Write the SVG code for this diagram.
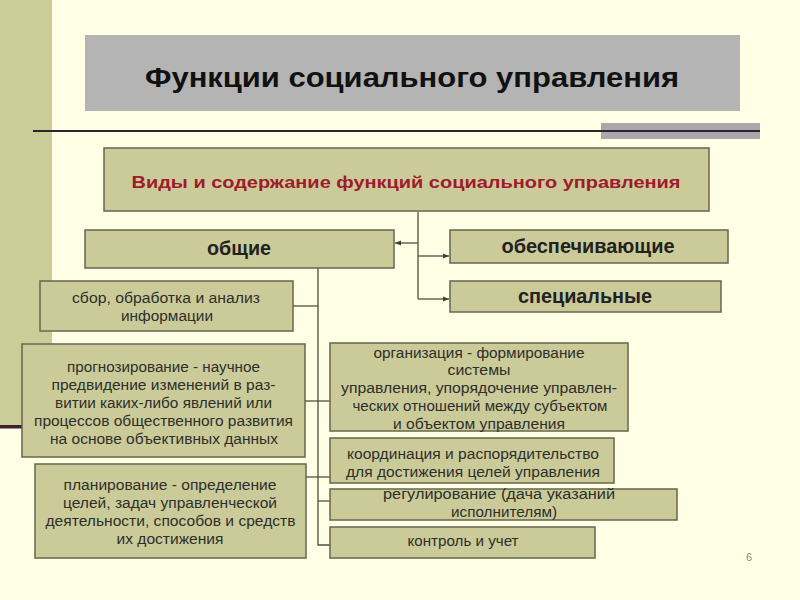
<svg xmlns="http://www.w3.org/2000/svg" width="800" height="600" viewBox="0 0 800 600">
<defs>
<style>
.box{fill:#CBCB9A;stroke:#66664F;stroke-width:1.5}
.t{font-family:"Liberation Sans",Arial,sans-serif;font-size:14px;fill:#2E2E2A;text-anchor:middle}
.b{font-family:"Liberation Sans",Arial,sans-serif;font-size:20px;font-weight:bold;fill:#222;text-anchor:middle}
.c{fill:none;stroke:#4F4F40;stroke-width:1.3}
</style>
<marker id="ah" viewBox="0 0 10 10" refX="10" refY="5" markerWidth="6" markerHeight="6" orient="auto" markerUnits="userSpaceOnUse">
<path d="M0,1 L10,5 L0,9 z" fill="#3F3F33"/>
</marker>
</defs>
<rect width="800" height="600" fill="#FFFFE5"/>
<rect x="0" y="0" width="52" height="426" fill="#CCCC99"/>
<rect x="0" y="425" width="40" height="3.5" fill="#3D1F33"/>
<rect x="601" y="123" width="159" height="16" fill="#A8A8AC"/>
<line x1="33" y1="131" x2="760" y2="131" stroke="#2C2430" stroke-width="2"/>

<g id="title">
<rect x="85" y="35" width="655" height="76" fill="#B4B4B4"/>
<text x="412" y="87" font-family="'Liberation Sans',Arial,sans-serif" font-size="27" font-weight="bold" fill="#111" text-anchor="middle" textLength="534" lengthAdjust="spacingAndGlyphs">Функции социального управления</text>
</g>

<g id="connectors">
<path class="c" d="M418,212 V299"/>
<path class="c" d="M418,243 H395" marker-end="url(#ah)"/>
<path class="c" d="M418,256 H449" marker-end="url(#ah)"/>
<path class="c" d="M418,299 H449" marker-end="url(#ah)"/>
<path class="c" d="M318,268 V545 H330"/>
<path class="c" d="M293,306 H318"/>
<path class="c" d="M305,401 H330"/>
<path class="c" d="M305,477 H330"/>
<path class="c" d="M318,501 H330"/>
</g>

<g id="node-vidy">
<rect class="box" x="104" y="148" width="605" height="63"/>
<text x="406" y="188" font-family="'Liberation Sans',Arial,sans-serif" font-size="17" font-weight="bold" fill="#9E1A2C" text-anchor="middle" textLength="549" lengthAdjust="spacingAndGlyphs">Виды и содержание функций социального управления</text>
</g>

<g id="node-obshchie">
<rect class="box" x="85" y="230" width="309" height="38"/>
<text class="b" x="239" y="255" textLength="64" lengthAdjust="spacingAndGlyphs">общие</text>
</g>

<g id="node-obespech">
<rect class="box" x="450" y="230" width="278" height="33"/>
<text class="b" x="588" y="253" textLength="173" lengthAdjust="spacingAndGlyphs">обеспечивающие</text>
</g>

<g id="node-spec">
<rect class="box" x="450" y="281" width="271" height="31"/>
<text class="b" x="585" y="303" textLength="134" lengthAdjust="spacingAndGlyphs">специальные</text>
</g>

<g id="node-sbor">
<rect class="box" x="40" y="281" width="253" height="50"/>
<text class="t" x="166" y="303" textLength="188" lengthAdjust="spacingAndGlyphs">сбор, обработка и анализ</text>
<text class="t" x="167" y="321" textLength="92" lengthAdjust="spacingAndGlyphs">информации</text>
</g>

<g id="node-prognoz">
<rect class="box" x="22" y="344" width="283" height="113"/>
<text class="t" x="163.5" y="372" textLength="193" lengthAdjust="spacingAndGlyphs">прогнозирование - научное</text>
<text class="t" x="163.5" y="390" textLength="224" lengthAdjust="spacingAndGlyphs">предвидение изменений в раз-</text>
<text class="t" x="163.5" y="408" textLength="217" lengthAdjust="spacingAndGlyphs">витии каких-либо явлений или</text>
<text class="t" x="163.5" y="426" textLength="259" lengthAdjust="spacingAndGlyphs">процессов общественного развития</text>
<text class="t" x="164" y="444" textLength="228" lengthAdjust="spacingAndGlyphs">на основе объективных данных</text>
</g>

<g id="node-plan">
<rect class="box" x="35" y="464" width="271" height="94"/>
<text class="t" x="170" y="490" textLength="213" lengthAdjust="spacingAndGlyphs">планирование - определение</text>
<text class="t" x="170" y="508" textLength="214" lengthAdjust="spacingAndGlyphs">целей, задач управленческой</text>
<text class="t" x="170.5" y="526" textLength="250" lengthAdjust="spacingAndGlyphs">деятельности, способов и средств</text>
<text class="t" x="170" y="544" textLength="107" lengthAdjust="spacingAndGlyphs">их достижения</text>
</g>

<g id="node-org">
<rect class="box" x="330" y="343" width="298" height="88"/>
<text class="t" x="479" y="358" textLength="211" lengthAdjust="spacingAndGlyphs">организация - формирование</text>
<text class="t" x="479" y="375" textLength="63" lengthAdjust="spacingAndGlyphs">системы</text>
<text class="t" x="479" y="393" textLength="276" lengthAdjust="spacingAndGlyphs">управления, упорядочение управлен-</text>
<text class="t" x="480" y="411" textLength="255" lengthAdjust="spacingAndGlyphs">ческих отношений между субъектом</text>
<text class="t" x="479" y="429" textLength="172" lengthAdjust="spacingAndGlyphs">и объектом управления</text>
</g>

<g id="node-koord">
<rect class="box" x="330" y="438" width="284" height="45"/>
<text class="t" x="473" y="459" textLength="252" lengthAdjust="spacingAndGlyphs">координация и распорядительство</text>
<text class="t" x="473" y="477" textLength="254" lengthAdjust="spacingAndGlyphs">для достижения целей управления</text>
</g>

<g id="node-regul">
<rect class="box" x="330" y="489" width="347" height="31"/>
<text class="t" x="499" y="499" textLength="232" lengthAdjust="spacingAndGlyphs">регулирование (дача указаний</text>
<text class="t" x="504" y="517" textLength="106" lengthAdjust="spacingAndGlyphs">исполнителям)</text>
</g>

<g id="node-kontrol">
<rect class="box" x="330" y="527" width="265" height="31"/>
<text class="t" x="463" y="546" textLength="111" lengthAdjust="spacingAndGlyphs">контроль и учет</text>
</g>

<text x="749" y="561" font-family="'Liberation Sans',Arial,sans-serif" font-size="11" fill="#8A8A80" text-anchor="middle">6</text>
</svg>
